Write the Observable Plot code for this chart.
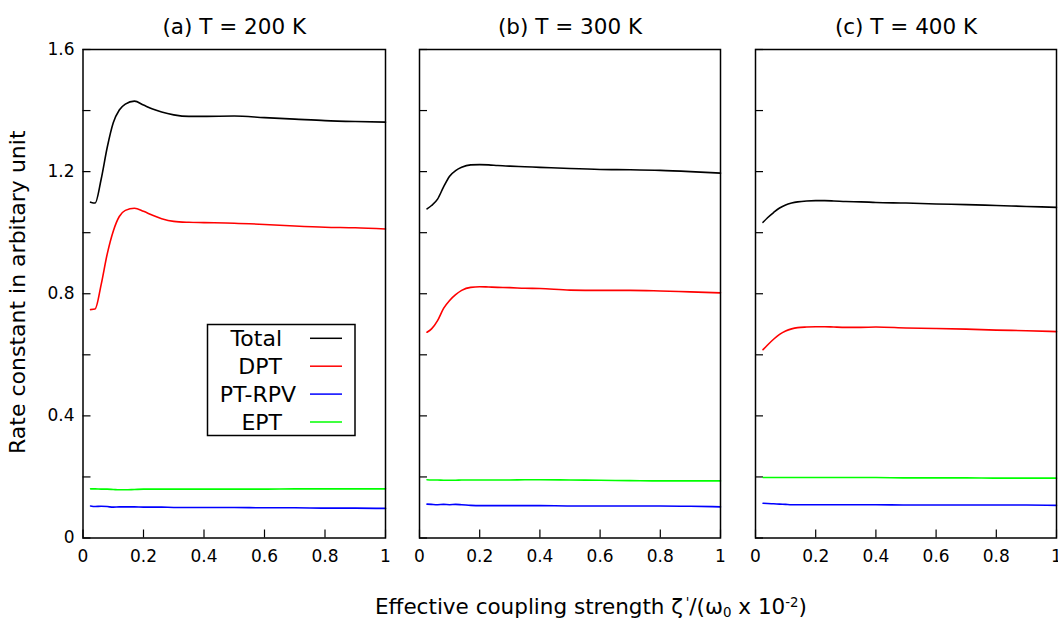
<!DOCTYPE html>
<html>
<head>
<meta charset="utf-8">
<script src="https://cdn.jsdelivr.net/npm/d3@7"></script>
<script src="https://cdn.jsdelivr.net/npm/@observablehq/plot@0.6"></script>
<style>
  body { margin: 0; background: #fff; }
  #fig { position: relative; width: 1058px; height: 619px; font-family: "DejaVu Sans", sans-serif; overflow: hidden; }
  .panel { position: absolute; top: 0; }
  #xlabel { position: absolute; left: 375px; top: 596px; font-size: 21.5px; line-height: 1; white-space: nowrap; color: #000; }
  #xlabel sub, #xlabel sup { font-size: 0.62em; line-height: 0; }
  #xlabel sub { vertical-align: -0.25em; }
  #xlabel sup { vertical-align: 0.55em; }
</style>
</head>
<body>
<div id="fig"><div id="xlabel">Effective coupling strength ζ<sup>&thinsp;'</sup>/(ω<sub>0</sub> x 10<sup>-2</sup>)</div></div>
<script>
// ---- data ----
const xs = [0.025,0.04,0.06,0.08,0.10,0.12,0.14,0.17,0.20,0.23,0.26,0.30,0.35,0.40,0.50,0.60,0.70,0.80,0.90,1.00];

const totalA = [1.100,1.097,1.175,1.279,1.360,1.402,1.421,1.431,1.418,1.405,1.395,1.386,1.381,1.381,1.382,1.377,1.372,1.367,1.364,1.362];
const dptA   = [0.748,0.750,0.830,0.930,1.005,1.053,1.073,1.080,1.070,1.057,1.046,1.037,1.034,1.033,1.031,1.027,1.022,1.018,1.016,1.012];
const rpvA   = [0.105,0.103,0.104,0.103,0.101,0.102,0.102,0.102,0.101,0.101,0.101,0.100,0.100,0.100,0.100,0.099,0.099,0.098,0.098,0.097];
const eptA   = [0.161,0.161,0.160,0.160,0.159,0.158,0.158,0.159,0.160,0.160,0.160,0.160,0.160,0.160,0.160,0.160,0.161,0.161,0.161,0.161];

const totalB = [1.078,1.089,1.110,1.150,1.185,1.203,1.214,1.222,1.223,1.222,1.220,1.218,1.216,1.214,1.210,1.207,1.206,1.204,1.200,1.195];
const dptB   = [0.674,0.685,0.712,0.752,0.778,0.797,0.811,0.821,0.823,0.822,0.821,0.820,0.818,0.817,0.812,0.811,0.811,0.809,0.806,0.803];
const rpvB   = [0.111,0.110,0.109,0.110,0.109,0.110,0.109,0.107,0.106,0.106,0.106,0.106,0.106,0.106,0.105,0.105,0.105,0.105,0.104,0.102];
const eptB   = [0.191,0.190,0.190,0.189,0.189,0.189,0.190,0.190,0.190,0.190,0.190,0.190,0.191,0.191,0.190,0.189,0.188,0.187,0.187,0.187];

const totalC = [1.034,1.049,1.066,1.081,1.091,1.097,1.101,1.104,1.105,1.105,1.104,1.102,1.101,1.099,1.097,1.094,1.092,1.089,1.086,1.083];
const dptC   = [0.617,0.632,0.651,0.667,0.678,0.685,0.689,0.691,0.692,0.692,0.691,0.690,0.690,0.691,0.688,0.686,0.684,0.681,0.679,0.676];
const rpvC   = [0.114,0.113,0.112,0.111,0.110,0.109,0.109,0.109,0.109,0.109,0.109,0.109,0.109,0.109,0.108,0.108,0.108,0.108,0.108,0.107];
const eptC   = [0.198,0.198,0.198,0.198,0.198,0.198,0.198,0.198,0.198,0.198,0.198,0.198,0.198,0.198,0.197,0.197,0.197,0.196,0.196,0.196];

const seriesNames  = ["Total", "DPT", "PT-RPV", "EPT"];
const seriesColors = ["#000000", "#ff0000", "#0000ff", "#00ff00"];
const panelTitles  = ["(a) T = 200 K", "(b) T = 300 K", "(c) T = 400 K"];
const panelSeries  = [[totalA, dptA, rpvA, eptA], [totalB, dptB, rpvB, eptB], [totalC, dptC, rpvC, eptC]];

const xTicks = [0, 0.2, 0.4, 0.6, 0.8, 1];
const xTickLabels = ["0", "0.2", "0.4", "0.6", "0.8", "1"];
const yMinorTicks = [0, 0.2, 0.4, 0.6, 0.8, 1.0, 1.2, 1.4, 1.6];
const yTicks = [0, 0.4, 0.8, 1.2, 1.6];
const yTickLabels = ["0", "0.4", "0.8", "1.2", "1.6"];
const yLabel = "Rate constant in arbitary unit";

// ---- layout ----
const layouts = [
  {left: 0,   width: 387, marginLeft: 82.5, marginRight: 2},
  {left: 400, width: 322, marginLeft: 19,   marginRight: 2},
  {left: 736, width: 322, marginLeft: 19,   marginRight: 2}
];
const H = 565, MT = 49, MB = 27.5;

const fig = document.getElementById("fig");

panelSeries.forEach((series, p) => {
  const L = layouts[p];
  const rows = [];
  series.forEach((vals, s) => vals.forEach((v, i) => rows.push({x: xs[i], y: v, s: seriesNames[s]})));

  const marks = [
    Plot.axisX(xTicks, {tickSize: -8, tickFormat: () => "", strokeWidth: 1.2}),
    Plot.axisX(xTicks, {tickSize: 0, tickPadding: 12, tickFormat: (d, i) => xTickLabels[i], fontSize: 17}),
    Plot.axisY(yMinorTicks, {tickSize: -8, tickFormat: () => "", strokeWidth: 1.2}),
    Plot.lineY(rows, {x: "x", y: "y", z: "s", stroke: "s", strokeWidth: 1.6, curve: "monotone-x"}),
    Plot.frame({stroke: "#000", strokeWidth: 1.5}),
    Plot.text([panelTitles[p]], {frameAnchor: "top", dy: -30.5, fontSize: 21.5, fill: "#000"})
  ];
  if (p === 0) {
    marks.push(Plot.axisY(yTicks, {tickSize: 0, tickPadding: 8.5, tickFormat: (d, i) => yTickLabels[i], fontSize: 17}));
    marks.push(Plot.text([yLabel], {frameAnchor: "left", textAnchor: "middle", rotate: -90, dx: -65.5, dy: -1.5, fontSize: 22, fill: "#000"}));
  }

  const chart = Plot.plot({
    width: L.width, height: H,
    marginLeft: L.marginLeft, marginRight: L.marginRight, marginTop: MT, marginBottom: MB,
    x: {domain: [0, 1], label: null},
    y: {domain: [0, 1.6], label: null},
    color: {domain: seriesNames, range: seriesColors},
    style: {fontFamily: "DejaVu Sans", fontSize: "17px", color: "#000", background: "transparent", overflow: "visible"},
    marks
  });
  chart.classList.add("panel");
  chart.style.left = L.left + "px";
  fig.appendChild(chart);

  if (p === 0) {
    // legend box (gnuplot-style key)
    const svg = d3.select(chart);
    const g = svg.append("g").attr("font-family", "DejaVu Sans").attr("font-size", 22);
    g.append("rect").attr("x", 207.5).attr("y", 324.5).attr("width", 147.5).attr("height", 111)
      .attr("fill", "#fff").attr("stroke", "#000").attr("stroke-width", 1.5);
    const textEnds = [282, 282, 296, 282];
    seriesNames.forEach((name, i) => {
      const cy = 338.3 + i * 27.9;
      g.append("text").attr("x", textEnds[i]).attr("y", cy).attr("dy", "0.36em")
        .attr("text-anchor", "end").attr("fill", "#000").text(name);
      g.append("line").attr("x1", 310).attr("x2", 342).attr("y1", cy).attr("y2", cy)
        .attr("stroke", seriesColors[i]).attr("stroke-width", 1.5);
    });
  }
});
</script>
</body>
</html>
